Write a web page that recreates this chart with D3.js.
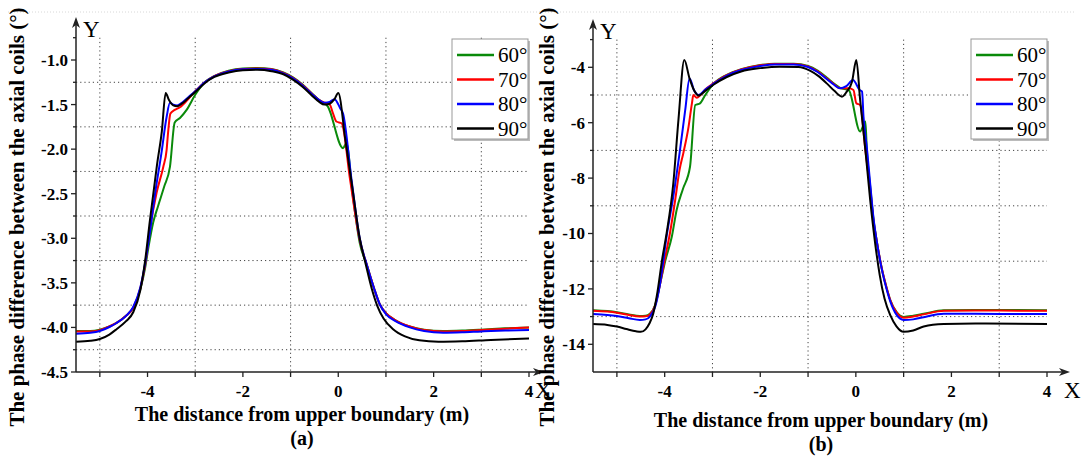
<!DOCTYPE html>
<html>
<head>
<meta charset="utf-8">
<script src="https://cdn.jsdelivr.net/npm/d3@7"></script>
<style>
  body { margin: 0; background: #fff; }
  svg { display: block; }
</style>
</head>
<body>
<div id="container"></div>
<script>
// Legend categories and colours
const angles = ["60°", "70°", "80°", "90°"];
const colors = ["#0a8a0a", "#ff0000", "#0000ff", "#000000"];

const xTicks = [-4, -2, 0, 2, 4];
const xMinor = [-5, -3, -1, 1, 3];
const yTicksA = [-4.5, -4.0, -3.5, -3.0, -2.5, -2.0, -1.5, -1.0];
const yMinorA = [-4.25, -3.75, -3.25, -2.75, -2.25, -1.75, -1.25, -0.75];
const yTicksB = [-14, -12, -10, -8, -6, -4];
const yMinorB = [-13, -11, -9, -7, -5, -3];

// Panel (a) series, [distance (m), phase difference (deg)]
const a60 = [[-5.5,-4.04],[-5.2,-4.04],[-5.0,-4.025],[-4.8,-3.99],[-4.65,-3.95],[-4.45,-3.87],[-4.3,-3.78],[-4.15,-3.57],[-4.05,-3.33],
  [-3.98,-3.1],[-3.88,-2.82],[-3.78,-2.64],[-3.65,-2.42],[-3.53,-2.2],[-3.43,-1.7],[-3.32,-1.65],[-3.18,-1.56],[-3.0,-1.39],
  [-2.8,-1.25],[-2.6,-1.18],[-2.3,-1.12],[-2.0,-1.095],[-1.7,-1.09],[-1.4,-1.1],[-1.15,-1.14],[-0.95,-1.195],[-0.75,-1.275],
  [-0.55,-1.375],[-0.4,-1.45],[-0.22,-1.52],[0.1,-1.99],[0.17,-1.93],[0.3,-2.5],[0.45,-3.05],[0.6,-3.3],[0.75,-3.56],
  [0.87,-3.74],[1.0,-3.84],[1.2,-3.92],[1.5,-3.99],[1.8,-4.025],[2.2,-4.04],[2.6,-4.035],[3.0,-4.025],[3.5,-4.01],[4.0,-4.0]];
const a70 = [[-5.5,-4.045],[-5.2,-4.045],[-5.0,-4.03],[-4.8,-3.99],[-4.65,-3.95],[-4.45,-3.87],[-4.3,-3.78],[-4.15,-3.56],[-4.05,-3.3],
  [-3.95,-2.9],[-3.81,-2.49],[-3.67,-2.2],[-3.6,-2.01],[-3.57,-1.82],[-3.52,-1.6],[-3.43,-1.56],[-3.32,-1.53],[-3.15,-1.44],[-3.0,-1.35],
  [-2.8,-1.25],[-2.6,-1.18],[-2.3,-1.125],[-2.0,-1.1],[-1.7,-1.095],[-1.4,-1.105],[-1.15,-1.145],[-0.95,-1.2],[-0.75,-1.28],
  [-0.55,-1.38],[-0.4,-1.45],[-0.28,-1.48],[-0.18,-1.5],[-0.11,-1.6],[-0.04,-1.69],[0.07,-1.71],[0.25,-2.35],[0.45,-3.02],
  [0.6,-3.3],[0.75,-3.56],[0.87,-3.74],[1.0,-3.84],[1.2,-3.92],[1.5,-3.99],[1.8,-4.03],[2.2,-4.045],[2.6,-4.04],[3.0,-4.03],
  [3.5,-4.015],[4.0,-4.0]];
const a80 = [[-5.5,-4.07],[-5.2,-4.06],[-5.0,-4.04],[-4.8,-3.995],[-4.65,-3.95],[-4.45,-3.87],[-4.3,-3.77],[-4.15,-3.55],[-4.05,-3.28],
  [-3.95,-2.93],[-3.85,-2.53],[-3.71,-2.05],[-3.6,-1.64],[-3.53,-1.48],[-3.46,-1.5],[-3.38,-1.51],[-3.28,-1.48],[-3.15,-1.42],[-3.0,-1.35],
  [-2.8,-1.25],[-2.6,-1.185],[-2.3,-1.13],[-2.0,-1.105],[-1.7,-1.1],[-1.4,-1.11],[-1.15,-1.15],[-0.95,-1.205],[-0.75,-1.285],
  [-0.55,-1.385],[-0.4,-1.45],[-0.28,-1.48],[-0.18,-1.47],[-0.08,-1.44],[0.04,-1.54],[0.1,-1.6],[0.28,-2.35],[0.45,-3.0],
  [0.6,-3.3],[0.75,-3.56],[0.87,-3.74],[1.0,-3.85],[1.2,-3.93],[1.5,-4.0],[1.8,-4.04],[2.2,-4.06],[2.6,-4.055],[3.0,-4.045],
  [3.5,-4.035],[4.0,-4.03]];
const a90 = [[-5.5,-4.16],[-5.2,-4.15],[-5.0,-4.13],[-4.8,-4.08],[-4.65,-4.02],[-4.45,-3.93],[-4.3,-3.83],[-4.15,-3.58],[-4.05,-3.25],
  [-3.95,-2.8],[-3.8,-2.17],[-3.7,-1.8],[-3.62,-1.37],[-3.55,-1.45],[-3.46,-1.51],[-3.38,-1.52],[-3.28,-1.49],[-3.15,-1.43],[-3.0,-1.36],
  [-2.8,-1.26],[-2.6,-1.19],[-2.3,-1.14],[-2.0,-1.115],[-1.7,-1.11],[-1.4,-1.125],[-1.15,-1.16],[-0.95,-1.22],[-0.75,-1.3],
  [-0.55,-1.4],[-0.4,-1.47],[-0.29,-1.5],[-0.18,-1.49],[-0.08,-1.44],[0.0,-1.37],[0.15,-1.9],[0.3,-2.45],[0.45,-3.0],
  [0.58,-3.3],[0.7,-3.56],[0.82,-3.76],[0.95,-3.9],[1.15,-4.02],[1.4,-4.1],[1.7,-4.145],[2.1,-4.16],[2.6,-4.155],[3.2,-4.14],
  [4.0,-4.125]];

// Panel (b) series
const b60 = [[-5.5,-12.77],[-5.2,-12.8],[-5.0,-12.84],[-4.75,-12.92],[-4.52,-12.98],[-4.4,-12.97],[-4.31,-12.9],[-4.2,-12.58],[-4.1,-11.85],
  [-3.99,-11.0],[-3.85,-10.11],[-3.75,-9.15],[-3.62,-8.4],[-3.47,-7.59],[-3.36,-5.36],[-3.26,-5.3],[-3.15,-5.0],[-2.98,-4.6],
  [-2.7,-4.27],[-2.4,-4.07],[-2.0,-3.92],[-1.7,-3.87],[-1.3,-3.87],[-1.0,-3.95],[-0.8,-4.12],[-0.61,-4.37],[-0.45,-4.6],
  [-0.33,-4.74],[-0.15,-4.82],[0.09,-6.32],[0.16,-6.08],[0.2,-5.96],[0.23,-6.99],[0.3,-8.3],[0.37,-9.5],[0.44,-10.3],
  [0.55,-11.32],[0.65,-12.0],[0.72,-12.4],[0.85,-12.83],[1.0,-13.01],[1.2,-12.97],[1.42,-12.9],[1.84,-12.77],[2.5,-12.76],
  [4.0,-12.77]];
const b70 = [[-5.5,-12.79],[-5.2,-12.82],[-5.0,-12.86],[-4.75,-12.94],[-4.52,-13.0],[-4.4,-12.99],[-4.31,-12.92],[-4.2,-12.6],[-4.1,-11.85],
  [-4.0,-10.95],[-3.89,-9.99],[-3.78,-8.79],[-3.69,-7.71],[-3.61,-7.1],[-3.5,-6.14],[-3.43,-5.3],[-3.4,-5.0],[-3.33,-5.1],
  [-3.25,-5.0],[-3.15,-4.8],[-2.98,-4.58],[-2.7,-4.28],[-2.4,-4.08],[-2.0,-3.93],[-1.7,-3.88],[-1.3,-3.88],[-1.0,-3.97],
  [-0.8,-4.15],[-0.61,-4.4],[-0.45,-4.62],[-0.33,-4.76],[-0.15,-4.76],[-0.05,-4.82],[0.01,-5.3],[0.09,-5.36],[0.2,-7.0],
  [0.3,-8.4],[0.37,-9.55],[0.44,-10.3],[0.55,-11.32],[0.65,-12.0],[0.72,-12.4],[0.85,-12.85],[1.0,-13.04],[1.2,-13.0],
  [1.42,-12.92],[1.84,-12.79],[2.5,-12.78],[4.0,-12.79]];
const b80 = [[-5.5,-12.91],[-5.2,-12.94],[-5.0,-12.98],[-4.75,-13.06],[-4.52,-13.12],[-4.4,-13.1],[-4.31,-13.0],[-4.2,-12.65],[-4.1,-11.85],
  [-3.96,-10.1],[-3.82,-8.67],[-3.68,-6.99],[-3.57,-5.54],[-3.48,-4.4],[-3.38,-4.85],[-3.29,-5.0],[-3.15,-4.8],[-2.98,-4.6],
  [-2.7,-4.3],[-2.4,-4.1],[-2.0,-3.95],[-1.7,-3.9],[-1.3,-3.9],[-1.0,-3.99],[-0.8,-4.17],[-0.61,-4.42],[-0.45,-4.64],
  [-0.33,-4.76],[-0.2,-4.68],[-0.06,-4.46],[0.08,-4.82],[0.13,-4.88],[0.16,-5.78],[0.23,-6.9],[0.3,-8.2],[0.37,-9.45],
  [0.44,-10.3],[0.55,-11.35],[0.65,-12.05],[0.72,-12.45],[0.85,-12.93],[1.0,-13.12],[1.2,-13.1],[1.42,-13.02],[1.84,-12.9],
  [2.5,-12.9],[4.0,-12.91]];
const b90 = [[-5.5,-13.27],[-5.2,-13.3],[-5.0,-13.36],[-4.8,-13.45],[-4.6,-13.53],[-4.5,-13.55],[-4.4,-13.46],[-4.32,-13.25],[-4.24,-12.9],
  [-4.15,-12.1],[-4.05,-10.9],[-3.96,-10.0],[-3.82,-8.2],[-3.71,-5.85],[-3.59,-3.74],[-3.48,-4.4],[-3.38,-4.85],[-3.29,-5.02],
  [-3.15,-4.85],[-2.98,-4.63],[-2.7,-4.35],[-2.4,-4.15],[-2.0,-4.03],[-1.6,-3.98],[-1.2,-3.99],[-0.96,-4.12],[-0.78,-4.32],
  [-0.61,-4.58],[-0.45,-4.85],[-0.29,-5.06],[-0.19,-4.88],[-0.08,-4.52],[0.01,-3.74],[0.09,-5.18],[0.2,-6.99],[0.3,-8.79],
  [0.4,-10.3],[0.5,-11.5],[0.6,-12.35],[0.72,-12.95],[0.85,-13.35],[1.0,-13.55],[1.2,-13.5],[1.42,-13.36],[1.84,-13.27],
  [2.5,-13.25],[4.0,-13.27]];

const width = 1082;
const height = 457;
const serif = "'Liberation Serif', 'DejaVu Serif', serif";

const svg = d3.select("#container")
    .append("svg")
    .attr("width", width)
    .attr("height", height)
    .attr("font-family", serif);

// faint dotted frame line along the top
svg.append("line")
    .attr("x1", 8).attr("x2", width - 8)
    .attr("y1", 12).attr("y2", 12)
    .style("stroke", "#d8d8d8")
    .style("stroke-dasharray", "1,2");

function drawPanel(p) {
    const x = d3.scaleLinear().domain([-5.5, 4]).range([p.left, p.right]);
    const y = d3.scaleLinear().domain(p.yDomain).range([372, p.yTopPx]);
    const g = svg.append("g");
    const x0 = x(-5.5), y0 = y(p.yDomain[0]);

    // dotted grid
    g.selectAll("line.h")
        .data(p.yGrid)
        .enter()
        .append("line")
        .attr("x1", x0).attr("x2", x(4))
        .attr("y1", d => y(d)).attr("y2", d => y(d))
        .style("stroke", "#444")
        .style("stroke-width", 1)
        .style("stroke-dasharray", "1.2,3");
    g.selectAll("line.v")
        .data(xMinor)
        .enter()
        .append("line")
        .attr("x1", d => x(d)).attr("x2", d => x(d))
        .attr("y1", y(p.gridTop)).attr("y2", y0)
        .style("stroke", "#444")
        .style("stroke-width", 1)
        .style("stroke-dasharray", "1.2,3");

    // curves
    const line = d3.line()
        .x(d => x(d[0]))
        .y(d => y(d[1]))
        .curve(d3.curveMonotoneX);
    g.selectAll("path.series")
        .data(p.series)
        .enter()
        .append("path")
        .attr("d", d => line(d))
        .style("fill", "none")
        .style("stroke", (d, i) => colors[i])
        .style("stroke-width", 2)
        .style("stroke-linejoin", "round");

    // axes lines with arrows
    const axisColor = "#222";
    g.append("line")
        .attr("x1", x0).attr("x2", x0)
        .attr("y1", y0).attr("y2", p.axisTop + 6)
        .style("stroke", axisColor).style("stroke-width", 1.5);
    g.append("path")
        .attr("d", `M${x0},${p.axisTop} L${x0 - 4},${p.axisTop + 11} L${x0},${p.axisTop + 8} L${x0 + 4},${p.axisTop + 11} Z`)
        .style("fill", axisColor);
    g.append("line")
        .attr("x1", x0).attr("x2", p.arrowX - 6)
        .attr("y1", y0).attr("y2", y0)
        .style("stroke", axisColor).style("stroke-width", 1.5);
    g.append("path")
        .attr("d", `M${p.arrowX},${y0} L${p.arrowX - 11},${y0 - 4} L${p.arrowX - 8},${y0} L${p.arrowX - 11},${y0 + 4} Z`)
        .style("fill", axisColor);

    // ticks
    g.selectAll("line.yt")
        .data(p.yTicks)
        .enter()
        .append("line")
        .attr("x1", x0 - 5).attr("x2", x0)
        .attr("y1", d => y(d)).attr("y2", d => y(d))
        .style("stroke", axisColor).style("stroke-width", 1.3);
    g.selectAll("line.ym")
        .data(p.yMinor)
        .enter()
        .append("line")
        .attr("x1", x0 - 3).attr("x2", x0)
        .attr("y1", d => y(d)).attr("y2", d => y(d))
        .style("stroke", axisColor).style("stroke-width", 1.3);
    g.selectAll("line.xt")
        .data(xTicks.concat(xMinor))
        .enter()
        .append("line")
        .attr("x1", d => x(d)).attr("x2", d => x(d))
        .attr("y1", y0).attr("y2", y0 + 5)
        .style("stroke", axisColor).style("stroke-width", 1.3);

    // tick labels
    g.selectAll("text.yl")
        .data(p.yTicks)
        .enter()
        .append("text")
        .attr("x", x0 - 8)
        .attr("y", d => y(d))
        .attr("dy", "0.35em")
        .attr("text-anchor", "end")
        .style("font-weight", "bold")
        .style("font-size", "17px")
        .text(p.yFormat);
    g.selectAll("text.xl")
        .data(xTicks)
        .enter()
        .append("text")
        .attr("x", d => x(d))
        .attr("y", y0 + 25)
        .attr("text-anchor", "middle")
        .style("font-weight", "bold")
        .style("font-size", "17px")
        .text(d => d);

    // axis letters
    g.append("text")
        .attr("x", x0 + 7).attr("y", p.axisTop + 20)
        .style("font-size", "23px")
        .text("Y");
    g.append("text")
        .attr("x", p.xLetter).attr("y", y0 + 26)
        .style("font-size", "23px")
        .text("X");

    // axis titles
    g.append("text")
        .attr("transform", `translate(${p.yTitleX},217) rotate(-90)`)
        .attr("text-anchor", "middle")
        .style("font-weight", "bold")
        .style("font-size", "21px")
        .text("The phase difference between the axial coils (°)");
    g.append("text")
        .attr("x", p.xTitleX).attr("y", p.xTitleY)
        .attr("text-anchor", "middle")
        .style("font-weight", "bold")
        .style("font-size", "20px")
        .text("The distance from upper boundary (m)");
    g.append("text")
        .attr("x", p.xTitleX).attr("y", p.xTitleY + 24)
        .attr("text-anchor", "middle")
        .style("font-weight", "bold")
        .style("font-size", "20px")
        .text(p.tag);

    // legend
    const lg = g.append("g").attr("transform", `translate(${p.legend[0]},${p.legend[1]})`);
    lg.append("rect")
        .attr("x", 2).attr("y", 2).attr("width", 76).attr("height", 100)
        .style("fill", "#bbb");
    lg.append("rect")
        .attr("width", 76).attr("height", 100)
        .style("fill", "#fff")
        .style("stroke", "#999")
        .style("stroke-width", 1);
    const items = lg.selectAll("g.item")
        .data(angles)
        .enter()
        .append("g")
        .attr("transform", (d, i) => `translate(0,${16 + i * 24.5})`);
    items.append("line")
        .attr("x1", 5).attr("x2", 42)
        .style("stroke", (d, i) => colors[i])
        .style("stroke-width", 2.5);
    items.append("text")
        .attr("x", 46)
        .attr("dy", "0.35em")
        .style("font-size", "21px")
        .text(d => d);
}

drawPanel({
    left: 76, right: 529, yDomain: [-4.5, -1.0], yTopPx: 60,
    yTicks: yTicksA, yMinor: yMinorA, yGrid: yMinorA.slice(0, 7), gridTop: -0.75,
    yFormat: d => d.toFixed(1),
    series: [a60, a70, a80, a90],
    axisTop: 17, arrowX: 544, xLetter: 535,
    yTitleX: 24, xTitleX: 302, xTitleY: 421, tag: "(a)",
    legend: [452, 39]
});

drawPanel({
    left: 593, right: 1047, yDomain: [-15, -4], yTopPx: 67.3,
    yTicks: yTicksB, yMinor: yMinorB, yGrid: yMinorB.slice(0, 5), gridTop: -3,
    yFormat: d => d,
    series: [b60, b70, b80, b90],
    axisTop: 19, arrowX: 1070, xLetter: 1064,
    yTitleX: 554, xTitleX: 821, xTitleY: 427, tag: "(b)",
    legend: [971, 39]
});
</script>
</body>
</html>
